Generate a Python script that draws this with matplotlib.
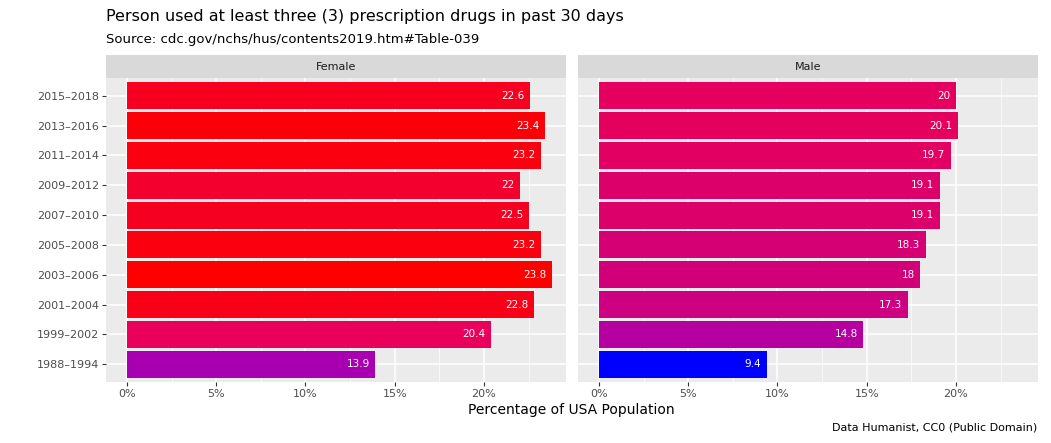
import matplotlib.pyplot as plt
from matplotlib.colors import LinearSegmentedColormap
from matplotlib.ticker import FixedLocator

periods = ["1988–1994", "1999–2002", "2001–2004", "2003–2006", "2005–2008",
           "2007–2010", "2009–2012", "2011–2014", "2013–2016", "2015–2018"]
female = [13.9, 20.4, 22.8, 23.8, 23.2, 22.5, 22.0, 23.2, 23.4, 22.6]
male = [9.4, 14.8, 17.3, 18.0, 18.3, 19.1, 19.1, 19.7, 20.1, 20.0]
panels = [("Female", female), ("Male", male)]

vmin, vmax = 9.4, 23.8
cmap = LinearSegmentedColormap.from_list("bluered", [
    (0.0, "#0000FF"), (0.3125, "#A800B0"), (0.375, "#B5009F"),
    (0.7639, "#E8005A"), (1.0, "#FF0000")])

W, H = 1051, 443
fig = plt.figure(figsize=(W / 100, H / 100), dpi=100)
fig.text(106 / W, 1 - 17 / H, "Person used at least three (3) prescription drugs in past 30 days",
         fontsize=11.5, va="center", ha="left")
fig.text(106 / W, 1 - 40 / H, "Source: cdc.gov/nchs/hus/contents2019.htm#Table-039",
         fontsize=9.5, va="center", ha="left")
fig.text(1037 / W, 1 - 428 / H, "Data Humanist, CC0 (Public Domain)",
         fontsize=8, va="center", ha="right")
fig.text((106 + 1037) / 2 / W, 1 - 410 / H, "Percentage of USA Population",
         fontsize=10, va="center", ha="center")

lefts = [106, 578]
pw = 460
top, bottom, strip_top = 78, 382, 55
ypos = list(range(len(periods)))
for (name, vals), lx in zip(panels, lefts):
    ax = fig.add_axes([lx / W, 1 - bottom / H, pw / W, (bottom - top) / H])
    ax.set_facecolor("#EBEBEB")
    ax.set_xlim(-1.18, 24.6)
    ax.set_ylim(-0.6, len(periods) - 0.4)
    ax.xaxis.set_major_locator(FixedLocator([0, 5, 10, 15, 20]))
    ax.xaxis.set_minor_locator(FixedLocator([2.5, 7.5, 12.5, 17.5, 22.5]))
    ax.grid(True, which="major", color="white", lw=1.1)
    ax.grid(True, which="minor", axis="x", color="white", lw=0.5)
    ax.set_axisbelow(True)
    for s in ax.spines.values():
        s.set_visible(False)
    colors = [cmap((v - vmin) / (vmax - vmin)) for v in vals]
    ax.barh(ypos, vals, height=0.9, color=colors)
    for y, v in zip(ypos, vals):
        ax.text(v - 0.3, y, f"{v:g}", color="white", fontsize=7.5, ha="right", va="center")
    ax.set_xticks([0, 5, 10, 15, 20])
    ax.set_xticklabels(["0%", "5%", "10%", "15%", "20%"], fontsize=8, color="#4D4D4D")
    ax.tick_params(which="both", length=3, color="#333333", pad=2)
    ax.tick_params(which="minor", length=0)
    ax.set_yticks(ypos)
    if lx == lefts[0]:
        ax.set_yticklabels(periods, fontsize=8, color="#4D4D4D")
    else:
        ax.set_yticklabels([])
        ax.tick_params(axis="y", length=0)
    sax = fig.add_axes([lx / W, 1 - top / H, pw / W, (top - strip_top) / H])
    sax.set_facecolor("#D9D9D9")
    sax.set_xticks([])
    sax.set_yticks([])
    for s in sax.spines.values():
        s.set_visible(False)
    sax.text(0.5, 0.5, name, ha="center", va="center", fontsize=8, color="#1A1A1A",
             transform=sax.transAxes)

fig.savefig("out.png", dpi=100)
